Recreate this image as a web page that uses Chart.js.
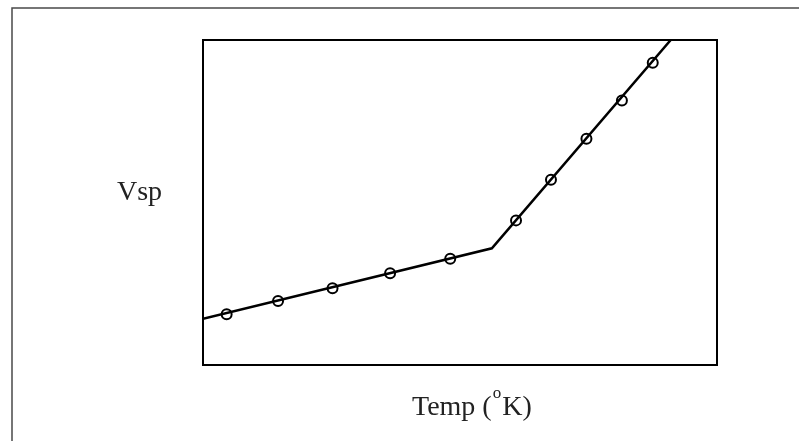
<!DOCTYPE html>
<html>
<head>
<meta charset="utf-8">
<script src="https://cdn.jsdelivr.net/npm/chart.js@4/dist/chart.umd.min.js"></script>
<style>
  html, body { margin: 0; padding: 0; background: #fff; }
  #wrap { width: 799px; height: 441px; position: relative; }
</style>
</head>
<body>
<div id="wrap"><canvas id="vspChart" width="799" height="441"></canvas></div>
<script>
// values (arbitrary units, axes have no ticks)
const lineTemp = [0, 56.2, 91.0];
const lineVsp = [14.2, 35.9, 100];
const pointTemp = [4.6, 14.6, 25.2, 36.4, 48.1, 60.9, 67.7, 74.6, 81.5, 87.5];
const pointVsp = [15.6, 19.7, 23.6, 28.2, 32.7, 44.5, 57.0, 69.6, 81.4, 93.0];
const xTitle = "Temp (";
const xTitleSup = "o";
const xTitleEnd = "K)";
const yTitle = "Vsp";

const toXY = (xs, ys) => xs.map((x, i) => ({ x: x, y: ys[i] }));

// frame, outer border and the two labels
const framePlugin = {
    id: 'frame',
    afterDraw(chart) {
        const c = chart.ctx;
        const a = chart.chartArea;
        c.save();
        // outer page border
        c.strokeStyle = '#4a4a4a';
        c.lineWidth = 1.5;
        c.beginPath();
        c.moveTo(12, 445);
        c.lineTo(12, 8);
        c.lineTo(805, 8);
        c.stroke();
        // plot box
        c.strokeStyle = '#000';
        c.lineWidth = 2;
        c.strokeRect(a.left, a.top, a.right - a.left, a.bottom - a.top);

        const big = '28px "Liberation Serif", "Times New Roman", serif';
        c.fillStyle = '#222';
        c.textBaseline = 'alphabetic';
        c.textAlign = 'left';
        c.font = big;
        c.fillText(yTitle, 117, 200);

        let x = 412;
        c.fillText(xTitle, x, 415);
        x += c.measureText(xTitle).width + 1;
        c.font = '17px "Liberation Serif", "Times New Roman", serif';
        c.fillText(xTitleSup, x, 398);
        x += c.measureText(xTitleSup).width + 1;
        c.font = big;
        c.fillText(xTitleEnd, x, 415);
        c.restore();
    }
};

const ctx = document.getElementById("vspChart").getContext("2d");
new Chart(ctx, {
    type: 'scatter',
    data: {
        datasets: [
            {
                data: toXY(lineTemp, lineVsp),
                showLine: true,
                borderColor: '#000',
                borderWidth: 2.5,
                pointRadius: 0,
                fill: false
            },
            {
                data: toXY(pointTemp, pointVsp),
                showLine: false,
                pointStyle: 'circle',
                pointRadius: 5,
                pointBorderWidth: 2,
                pointBorderColor: '#000',
                pointBackgroundColor: 'rgba(0,0,0,0)'
            }
        ]
    },
    options: {
        responsive: false,
        animation: false,
        layout: { padding: { left: 203, top: 40, right: 82, bottom: 76 } },
        plugins: {
            legend: { display: false },
            tooltip: { enabled: false },
            title: { display: false }
        },
        scales: {
            x: { type: 'linear', min: 0, max: 100, display: false },
            y: { type: 'linear', min: 0, max: 100, display: false }
        }
    },
    plugins: [framePlugin]
});
</script>
</body>
</html>
